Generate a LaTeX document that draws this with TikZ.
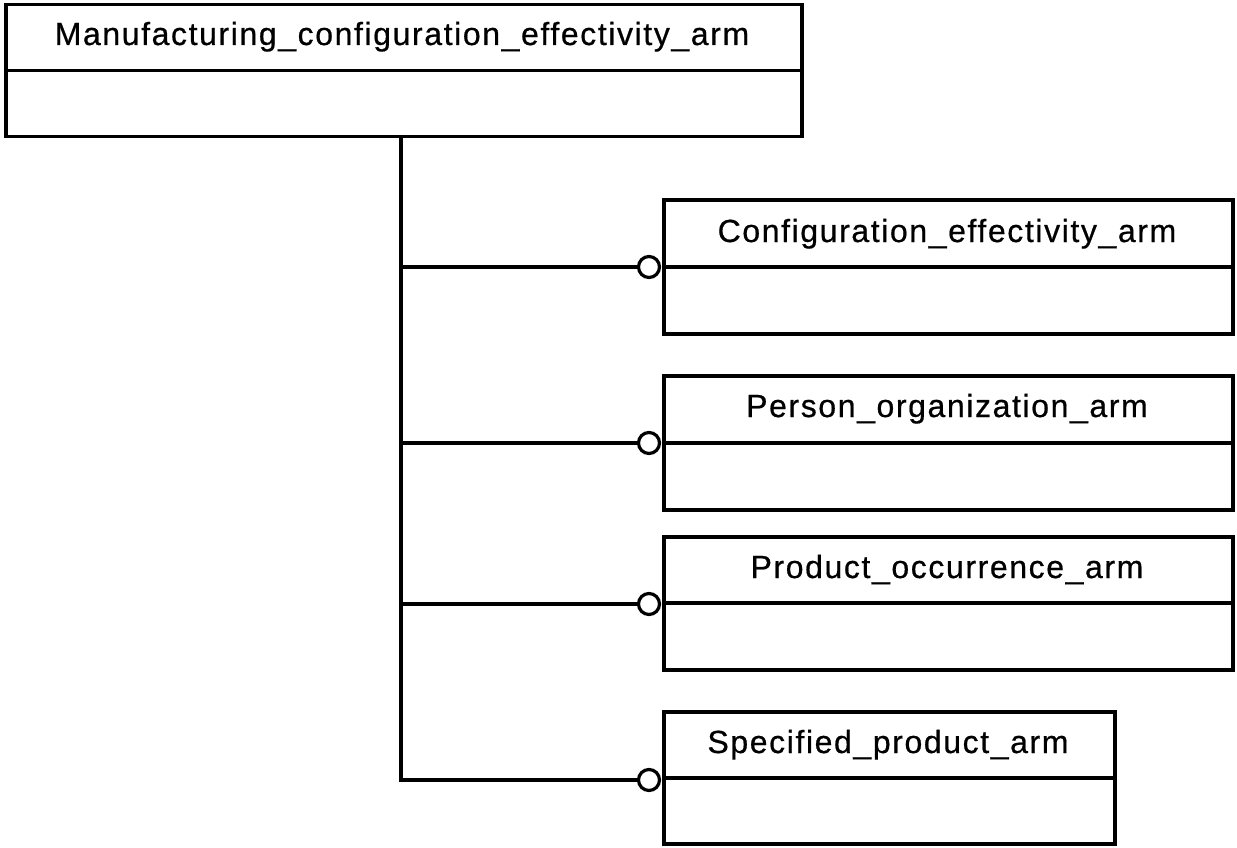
\documentclass[tikz,border=0pt]{standalone}
\usepackage{fontspec}
\setmainfont{Liberation Sans}[LetterSpace=5,FakeBold=0.6]
\begin{document}
\begin{tikzpicture}[x=1pt,y=-1pt,line width=3.5pt,line join=miter,
  comp/.style={draw,rectangle,inner sep=0pt,anchor=north west},
  lbl/.style={anchor=base,inner sep=0pt,font=\fontsize{32}{36}\selectfont},
  circ/.style={draw,circle,fill=white,minimum size=21pt,inner sep=0pt,line width=3.2pt}]
\useasboundingbox (0,0) rectangle (1237,848);
% top class
\node[comp,minimum width=796pt,minimum height=66pt] (mt) at (4,3) {};
\node[comp,minimum width=796pt,minimum height=66pt] (ma) at (4,69) {};
\node[lbl] (mtx) at (402,45) {Manufacturing\_configuration\_effectivity\_arm};
% config
\node[comp,minimum width=569pt,minimum height=67pt] (ct) at (662,198) {};
\node[comp,minimum width=569pt,minimum height=67pt] (ca) at (662,265) {};
\node[lbl] (ctx) at (947,242) {Configuration\_effectivity\_arm};
% person
\node[comp,minimum width=569pt,minimum height=67pt] (pt) at (662,374) {};
\node[comp,minimum width=569pt,minimum height=67pt] (pa) at (662,441) {};
\node[lbl] (ptx) at (947,417) {Person\_organization\_arm};
% product occurrence
\node[comp,minimum width=569pt,minimum height=66pt] (ot) at (662,535) {};
\node[comp,minimum width=569pt,minimum height=67pt] (oa) at (662,601) {};
\node[lbl] (otx) at (947,578) {Product\_occurrence\_arm};
% specified product
\node[comp,minimum width=451pt,minimum height=66pt] (st) at (662,710) {};
\node[comp,minimum width=451pt,minimum height=66pt] (sa) at (662,776) {};
\node[lbl] (stx) at (888,753) {Specified\_product\_arm};
% connectors
\coordinate (top) at (401,135);
\coordinate (j1) at (401,267);
\coordinate (j2) at (401,443);
\coordinate (j3) at (401,604);
\coordinate (j4) at (401,780);
\node[circ] (c1) at (649,267) {};
\node[circ] (c2) at (649,443) {};
\node[circ] (c3) at (649,604) {};
\node[circ] (c4) at (649,780) {};
\draw (top) -- (j4) -- (c4);
\draw (j1) -- (c1);
\draw (j2) -- (c2);
\draw (j3) -- (c3);
\end{tikzpicture}
\end{document}
